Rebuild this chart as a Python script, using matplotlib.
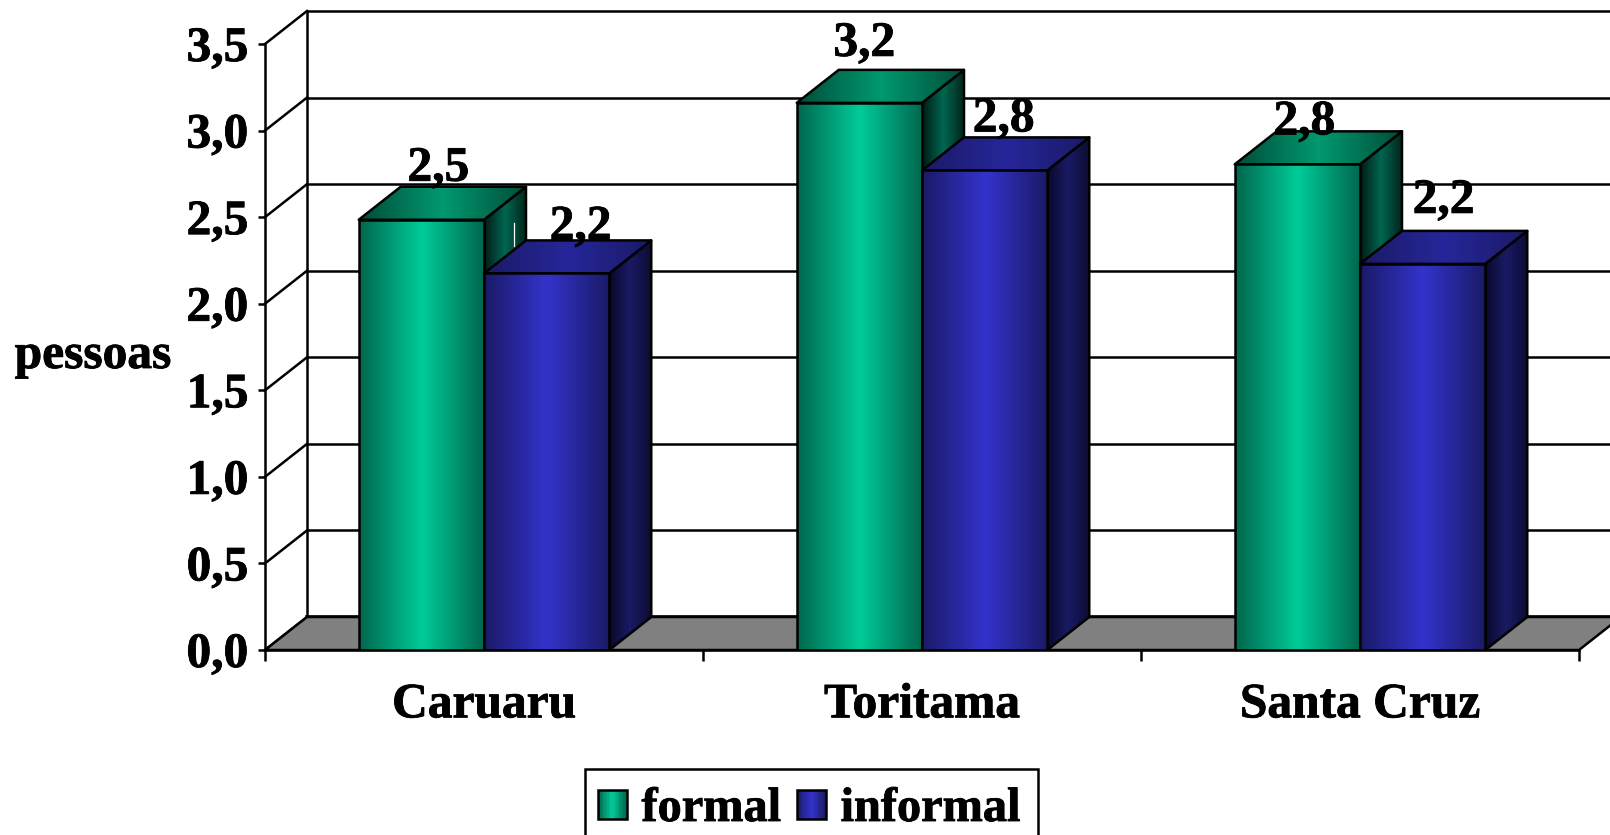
import numpy as np
import matplotlib
matplotlib.use("Agg")
import matplotlib.pyplot as plt
import matplotlib.patheffects as pe
from matplotlib.colors import LinearSegmentedColormap as LSC
from matplotlib.legend_handler import HandlerBase
from matplotlib.patches import Polygon, Rectangle
from matplotlib.text import Text

categories = ["Caruaru", "Toritama", "Santa Cruz"]
formal = [2.485, 3.16, 2.805]
informal = [2.175, 2.77, 2.23]
y_ticks = [0.0, 0.5, 1.0, 1.5, 2.0, 2.5, 3.0, 3.5]
series_names = ["formal", "informal"]

# per-label offsets in pixels (dx, dy from front top-centre of the bar)
formal_label_offsets = [(17, 39), (5, 47), (7, 30)]
informal_label_offsets = [(34, 34), (19, 39), (21, 51)]

W, H = 1610, 835
plt.rcParams["font.family"] = ["Liberation Serif", "DejaVu Serif"]
plt.rcParams["font.weight"] = "bold"
FS = 35.6
LEG_FS = 34.8
LW = 1.8

fig = plt.figure(figsize=(W / 100, H / 100), dpi=100, facecolor="white")
L, R, T, B = 265, 1579, 44, 650
ax = fig.add_axes([L / W, 1 - B / H, (R - L) / W, (B - T) / H])
ax.patch.set_visible(False)

DX = 42 / ((R - L) / 3)
DY = 33 / ((B - T) / 3.5)
BAR_W = 0.286

GREEN = dict(
    front=LSC.from_list("gf", ["#00664d", "#00cc99", "#00664d"]),
    side=LSC.from_list("gs", ["#001a13", "#006650", "#00261c"]),
    top=LSC.from_list("gt", ["#004d39", "#00996f", "#004d39"]),
)
BLUE = dict(
    front=LSC.from_list("bf", ["#1a1a66", "#3333cc", "#1a1a66"]),
    side=LSC.from_list("bs", ["#08082a", "#1a1a66", "#0c0c33"]),
    top=LSC.from_list("bt", ["#1a1a66", "#26269a", "#1a1a66"]),
)

# back wall and floor
for v in y_ticks:
    ax.plot([0, DX], [v, v + DY], color="black", lw=LW, clip_on=False, zorder=1)
    ax.plot([DX, 3 + DX], [v + DY, v + DY], color="black",
            lw=2.6 if v == 0 else LW, clip_on=False, zorder=1)
ax.plot([DX, DX], [DY, 3.5 + DY], color="black", lw=LW, clip_on=False, zorder=1)
ax.add_patch(Polygon([(0, 0), (DX, DY), (3 + DX, DY), (3, 0)], closed=True,
                     facecolor="#808080", edgecolor="black", lw=LW,
                     clip_on=False, zorder=1.5))


def shaded(pts, cmap, z):
    pts = np.array(pts)
    poly = Polygon(pts, closed=True, facecolor="none", edgecolor="none", zorder=z)
    ax.add_patch(poly)
    im = ax.imshow(np.linspace(0, 1, 256)[None, :], cmap=cmap, aspect="auto",
                   interpolation="bilinear", zorder=z,
                   extent=(pts[:, 0].min(), pts[:, 0].max(),
                           pts[:, 1].min(), pts[:, 1].max()))
    im.set_clip_path(poly)
    ax.add_patch(Polygon(pts, closed=True, facecolor="none", edgecolor="black",
                         lw=LW, joinstyle="round", zorder=z + 0.1))


def bar3d(x0, h, palette, z):
    x1 = x0 + BAR_W
    shaded([(x1, 0), (x1 + DX, DY), (x1 + DX, h + DY), (x1, h)], palette["side"], z)
    shaded([(x0, h), (x1, h), (x1 + DX, h + DY), (x0 + DX, h + DY)], palette["top"], z + 0.2)
    shaded([(x0, 0), (x1, 0), (x1, h), (x0, h)], palette["front"], z + 0.4)


z = 4.0
for i in range(len(categories)):
    bar3d(i + 0.5 - BAR_W, formal[i], GREEN, z)
    if i == 0:
        xw = i + 0.5 + 0.72 * DX
        ax.plot([xw, xw], [formal[i] - 0.02, informal[i] + 0.72 * DY + 0.02],
                color="white", lw=0.9, zorder=z + 0.15)
    z += 1
    bar3d(i + 0.5, informal[i], BLUE, z)
    z += 1


def add_label(x, v, off):
    ax.annotate(f"{v:.1f}".replace(".", ","), xy=(x, v),
                xytext=(off[0] * 0.72, off[1] * 0.72), textcoords="offset points",
                ha="center", va="baseline", fontsize=FS, fontweight="bold",
                annotation_clip=False, zorder=50)


for i in range(len(categories)):
    add_label(i + 0.5 - BAR_W / 2, formal[i], formal_label_offsets[i])
    add_label(i + 0.5 + BAR_W / 2, informal[i], informal_label_offsets[i])

# axes
ax.set_xlim(0, 3)
ax.set_ylim(0, 3.5)
for s in ("top", "right"):
    ax.spines[s].set_visible(False)
for s in ("left", "bottom"):
    ax.spines[s].set_linewidth(LW)
ax.set_yticks(y_ticks)
ax.set_yticklabels([f"{v:.1f}".replace(".", ",") for v in y_ticks], fontsize=FS, fontweight="bold")
ax.tick_params(axis="y", length=5, width=LW, pad=7)
ax.set_xticks([0, 1, 2, 3])
ax.set_xticklabels([])
ax.set_xticks([i + 0.5 for i in range(len(categories))], minor=True)
ax.set_xticklabels(categories, minor=True, fontsize=FS, fontweight="bold")
ax.tick_params(axis="x", which="major", length=8, width=LW)
ax.tick_params(axis="x", which="minor", length=0, pad=24)
ax.set_ylabel("pessoas", rotation=0, fontsize=FS, fontweight="bold", ha="center", va="center")
ax.yaxis.set_label_coords((93 - L) / (R - L), (B - 356) / (B - T))


# legend with gradient swatches
class GradHandler(HandlerBase):
    def __init__(self, cmap):
        super().__init__()
        self.cmap = cmap

    def create_artists(self, legend, orig, xd, yd, width, height, fontsize, trans):
        n = 16
        side = 20.5
        arts = []
        for k in range(n):
            arts.append(Rectangle((-xd + width * k / n, -yd), width / n + 0.3, side,
                                  facecolor=self.cmap((k + 0.5) / n), edgecolor="none",
                                  transform=trans))
        arts.append(Rectangle((-xd, -yd), width, side, facecolor="none",
                              edgecolor="black", lw=LW, transform=trans))
        return arts


fig.add_artist(Rectangle((585 / W, 1 - 845 / H), (1038 - 585) / W, (845 - 769) / H,
                         transform=fig.transFigure, facecolor="white",
                         edgecolor="black", lw=LW))
h1, h2 = Rectangle((0, 0), 1, 1), Rectangle((0, 0), 1, 1)
leg = fig.legend([h1, h2], series_names, ncol=2, loc="upper left",
                 bbox_to_anchor=(598 / W, 1 - 787 / H), bbox_transform=fig.transFigure,
                 prop=dict(size=LEG_FS, weight="bold"), frameon=False,
                 borderpad=0, borderaxespad=0,
                 handlelength=0.59, handleheight=0.58, handletextpad=0.31,
                 columnspacing=0.33,
                 handler_map={h1: GradHandler(GREEN["front"]), h2: GradHandler(BLUE["front"])})

# slightly heavier glyphs, as in the reference
for t in fig.findobj(Text):
    if t.get_text():
        t.set_path_effects([pe.withStroke(linewidth=0.6, foreground="black")])

fig.savefig("out.png", dpi=100)
